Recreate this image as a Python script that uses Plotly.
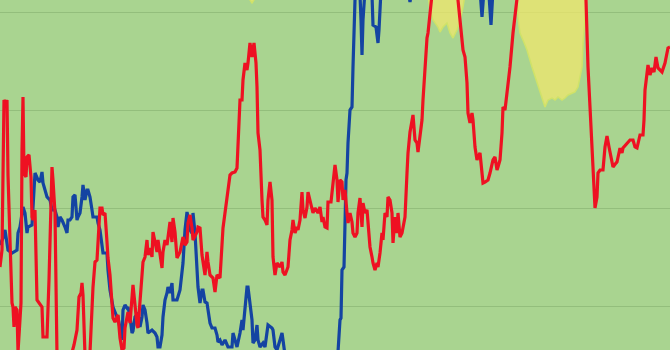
import plotly.graph_objects as go

# ---- data ----
red_x = [0, 2, 4, 6, 7, 8, 10, 12, 13, 14, 15, 17, 18, 19, 21, 22, 23, 24, 26, 27, 29, 31, 32, 33, 35, 37, 39, 42, 43, 47,
         49, 51, 52, 53, 55, 57, 60, 70, 74, 77, 79, 81, 82, 83, 85, 90, 93, 95, 97, 100, 102, 103, 105, 107, 108, 110,
         113, 115, 118, 120, 122, 124, 125, 128, 130, 133, 135, 137, 138, 140, 142, 143, 145, 147, 148, 150, 152, 153,
         155, 157, 158, 160, 162, 163, 165, 167, 168, 170, 172, 173, 175, 177, 180, 183, 185, 187, 188, 190, 192, 193,
         197, 198, 200, 202, 205, 207, 208, 210, 213, 215, 217, 220, 223, 227, 230, 232, 235, 237, 240, 242, 243, 245,
         247, 248, 250, 252, 254, 256, 257, 258, 260, 262, 263, 265, 267, 268, 270, 272, 273, 275, 277, 280, 282, 283,
         285, 288, 290, 292, 293, 295, 297, 298, 300, 302, 303, 305, 307, 308, 310, 312, 313, 315, 318, 320, 322, 323,
         325, 327, 328, 331, 332, 335, 337, 338, 340, 342, 343, 345, 347, 348, 350, 352, 353, 355, 357, 358, 360, 362,
         363, 365, 367, 368, 370, 372, 373, 375, 377, 378, 380, 382, 383, 385, 387, 388, 390, 392, 393, 395, 397, 398,
         400, 402, 405, 407, 408, 410, 413, 415, 417, 418, 420, 422, 423, 425, 427, 428, 430, 433, 445, 455, 458, 460,
         462, 463, 465, 467, 468, 470, 472, 473, 475, 477, 478, 480, 482, 483, 485, 488, 490, 493, 495, 497, 498, 500,
         502, 503, 505, 508, 510, 513, 515, 518, 550, 583, 586, 588, 591, 593, 595, 597, 598, 600, 603, 605, 607, 609,
         611, 613, 616, 617, 620, 622, 623, 627, 630, 633, 635, 637, 640, 643, 644, 645, 647, 648, 650, 652, 654, 656,
         658, 662, 665, 668, 670]
red_y = [83, 100, 250, 246, 250, 175, 110, 47, 43, 23, 43, 40, -2, 20, 47, 200, 253, 177, 173, 193, 195, 173, 133, 130, 140,
         50, 47, 43, 13, 13, 70, 153, 183, 170, 137, -5, -10, -10, 5, 20, 53, 57, 67, 55, -5, -2, 63, 88, 90, 142, 142,
         135, 137, 108, 92, 75, 32, 28, 35, 12, 0, 2, 22, 38, 27, 65, 42, 25, 22, 48, 75, 88, 93, 110, 95, 102, 93, 118,
         108, 98, 110, 98, 82, 98, 110, 105, 112, 128, 108, 132, 118, 92, 98, 113, 105, 108, 127, 135, 122, 110, 118,
         123, 122, 95, 75, 98, 88, 75, 72, 58, 75, 72, 122, 155, 175, 177, 178, 182, 250, 250, 270, 287, 280, 287, 307,
         293, 307, 287, 263, 217, 200, 150, 133, 130, 125, 150, 168, 150, 93, 75, 87, 83, 88, 78, 75, 83, 110, 120, 130,
         117, 123, 120, 130, 158, 140, 132, 143, 158, 150, 143, 137, 142, 137, 143, 128, 133, 123, 122, 148, 148, 158,
         185, 170, 148, 170, 168, 150, 160, 137, 127, 137, 128, 117, 113, 117, 137, 152, 123, 147, 137, 140, 130, 103,
         93, 87, 80, 87, 83, 97, 117, 110, 137, 133, 153, 150, 137, 107, 133, 117, 137, 113, 117, 133, 177, 197, 218,
         235, 210, 207, 198, 217, 230, 250, 283, 312, 317, 340, 365, 375, 365, 350, 327, 313, 300, 293, 267, 237, 227,
         237, 230, 203, 190, 193, 197, 177, 167, 168, 170, 177, 190, 193, 180, 183, 190, 217, 243, 240, 263, 283, 317,
         337, 360, 380, 360, 350, 283, 223, 183, 142, 153, 177, 180, 180, 203, 214, 203, 193, 183, 187, 188, 202, 197,
         202, 207, 210, 210, 203, 202, 215, 215, 230, 260, 280, 285, 275, 282, 278, 293, 282, 278, 287, 302, 303]

blue_x = [0, 3, 5, 8, 12, 17, 18, 20, 23, 25, 27, 28, 32, 33, 35, 38, 40, 42, 43, 47, 50, 52, 55, 57, 58, 60, 62, 65, 67,
          68, 70, 72, 73, 75, 77, 78, 80, 82, 83, 85, 87, 88, 90, 92, 93, 97, 98, 100, 102, 103, 107, 108, 110, 112, 113,
          117, 118, 122, 123, 125, 127, 128, 130, 132, 133, 135, 137, 138, 140, 142, 143, 145, 147, 148, 152, 155, 157,
          158, 160, 162, 163, 165, 167, 168, 170, 172, 173, 177, 180, 182, 183, 185, 187, 188, 190, 192, 193, 195, 197,
          198, 200, 202, 203, 205, 207, 208, 210, 212, 215, 217, 218, 220, 222, 225, 228, 232, 233, 235, 237, 240, 242,
          243, 245, 247, 248, 250, 252, 253, 255, 257, 258, 260, 263, 265, 267, 268, 272, 273, 275, 277, 280, 282, 283,
          285, 300, 325, 338, 340, 341, 342, 344, 345, 346, 347, 348, 350, 352, 353, 355, 357, 360, 361, 362, 363, 365,
          372, 373, 376, 378, 379, 381, 395, 408, 410, 412, 480, 482, 484, 489, 491, 493, 500, 670]
blue_y = [105, 112, 120, 100, 97, 100, 117, 123, 143, 137, 117, 123, 125, 143, 177, 170, 168, 178, 167, 153, 150, 140,
          140, 133, 123, 133, 130, 123, 117, 130, 130, 133, 153, 155, 130, 133, 137, 153, 165, 150, 160, 160, 153, 140,
          133, 133, 127, 120, 100, 97, 97, 80, 60, 50, 43, 33, 33, 10, 40, 45, 42, 43, 33, 17, 19, 33, 35, 37, 23, 33,
          45, 40, 27, 17, 20, 17, 13, 3, 3, 15, 33, 50, 57, 63, 57, 67, 50, 50, 60, 80, 87, 120, 138, 133, 120, 117,
          137, 117, 77, 63, 47, 60, 60, 48, 47, 40, 27, 22, 22, 15, 8, 10, 5, 10, 3, 3, 17, 10, 3, 17, 30, 20, 43, 63,
          63, 43, 30, 7, 10, 25, 10, 3, 7, 3, 23, 25, 22, 20, 3, 0, 10, 17, 10, -5, -15, -15, -2, 30, 32, 80, 83, 143,
          170, 177, 207, 240, 243, 283, 350, 365, 355, 330, 295, 330, 360, 355, 325, 323, 307, 320, 360, 370, 360, 348,
          360, 360, 333, 360, 355, 325, 360, 370, 370]

band_x = [0, 248, 250, 252, 254, 256, 426, 428, 430, 433, 438, 440, 443, 447, 450, 453, 457, 460, 463, 465, 467,
          516, 518, 520, 523, 527, 532, 537, 542, 545, 548, 552, 555, 558, 562, 565, 568, 572, 575, 578, 582, 583,
          585, 587, 589, 670]
band_low = [380, 380, 350, 347, 350, 380, 380, 355, 340, 330, 323, 318, 323, 327, 317, 312, 320, 330, 343, 355, 380,
            380, 333, 317, 310, 300, 283, 268, 253, 243, 250, 252, 250, 253, 250, 252, 255, 257, 258, 263, 283, 307,
            333, 355, 380, 380]
band_high = [420] * len(band_x)

grid_values = [44, 142, 240, 338]

GREEN = "#a9d490"
YELLOW_FILL = "rgba(243,232,108,0.72)"
YELLOW_EDGE = "rgb(208,226,104)"
RED = "#ee1122"
BLUE = "#1444a2"

fig = go.Figure()
fig.add_trace(go.Scatter(x=band_x, y=band_high, mode="lines", line=dict(width=0), hoverinfo="skip",
                         showlegend=False))
fig.add_trace(go.Scatter(x=band_x, y=band_low, mode="lines", fill="tonexty", fillcolor=YELLOW_FILL,
                         line=dict(color=YELLOW_EDGE, width=1.5), hoverinfo="skip", showlegend=False))
fig.add_trace(go.Scatter(x=blue_x, y=blue_y, mode="lines", line=dict(color=BLUE, width=3.2),
                         showlegend=False))
fig.add_trace(go.Scatter(x=red_x, y=red_y, mode="lines", line=dict(color=RED, width=3.2),
                         showlegend=False))

fig.update_layout(
    width=670, height=350,
    margin=dict(l=0, r=0, t=0, b=0),
    paper_bgcolor=GREEN, plot_bgcolor=GREEN,
    xaxis=dict(range=[0, 670], showgrid=False, zeroline=False, showticklabels=False, ticks="",
               fixedrange=True),
    yaxis=dict(range=[0, 350], tickmode="array", tickvals=grid_values, showgrid=True,
               gridcolor="rgba(120,165,100,0.45)", gridwidth=1.2, zeroline=False,
               showticklabels=False, ticks="", fixedrange=True),
)

fig.write_html("out.html")
